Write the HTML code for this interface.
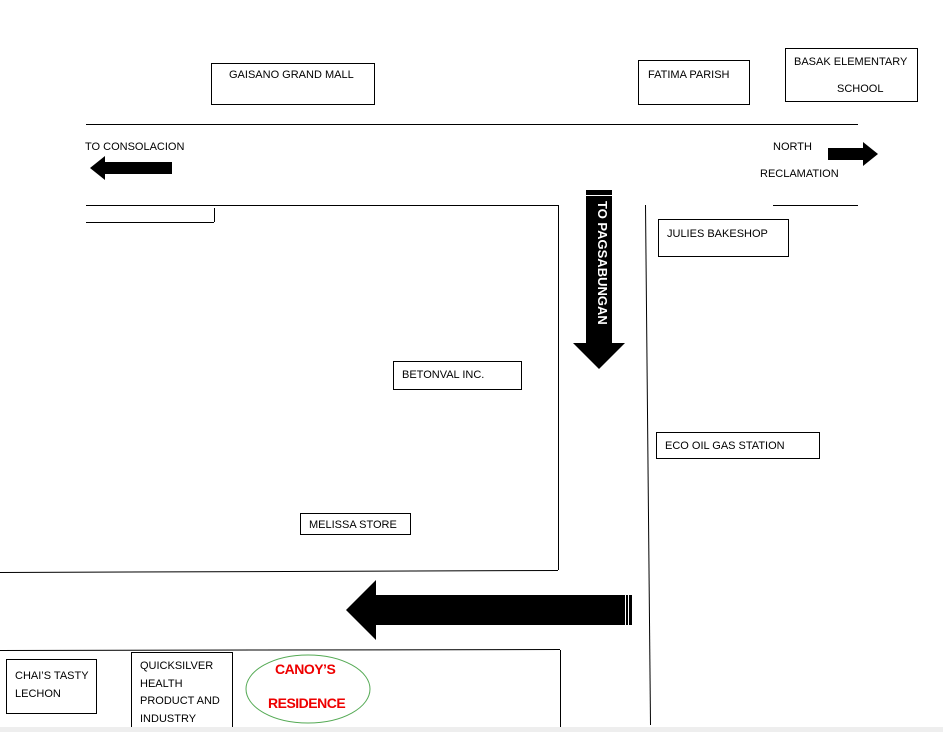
<!DOCTYPE html>
<html><head><style>
body{margin:0;width:943px;height:732px;background:#fff;position:relative;overflow:hidden;font-family:"Liberation Sans",sans-serif;font-size:11px;color:#000}
.b{position:absolute;border:1px solid #000;box-sizing:border-box}
.t{position:absolute;white-space:nowrap;margin-top:1px}
</style></head><body>
<svg width="943" height="732" style="position:absolute;left:0;top:0">
<g stroke="#000" stroke-width="1" fill="none">
<line x1="86" y1="124.5" x2="858" y2="124.5"/>
<line x1="86" y1="222.5" x2="214" y2="222.5"/>
<line x1="214.5" y1="208" x2="214.5" y2="222"/>
<line x1="86" y1="205.5" x2="558" y2="205.5"/>
<line x1="558.5" y1="205" x2="558.5" y2="570"/>
<line x1="0" y1="572.5" x2="558" y2="570.5"/>
<line x1="645.5" y1="205" x2="650.5" y2="725"/>
<line x1="773" y1="205.5" x2="858" y2="205.5"/>
<line x1="0" y1="650.5" x2="560" y2="649.5"/>
<line x1="560.5" y1="650" x2="560.5" y2="728"/>
</g>
<polygon points="90,168 105,156 105,162 172,162 172,174 105,174 105,180" fill="#000"/>
<polygon points="878,154 863,142 863,148 828,148 828,160 863,160 863,166" fill="#000"/>
<rect x="586" y="190" width="26" height="153" fill="#000"/>
<line x1="586" y1="195.5" x2="612" y2="195.5" stroke="#fff" stroke-width="1"/>
<polygon points="573,343 625,343 599,369" fill="#000"/>
<polygon points="346,610 376,580 376,595 632,595 632,625 376,625 376,640" fill="#000"/>
<line x1="625.5" y1="595" x2="625.5" y2="625" stroke="#fff"/>
<line x1="628.5" y1="595" x2="628.5" y2="625" stroke="#fff"/>
<ellipse cx="308" cy="689" rx="62" ry="34" fill="none" stroke="#5a5" stroke-width="1"/>
</svg>
<div class="t" style="left:590px;top:200px;transform-origin:0 0;transform:translate(19px,0) rotate(90deg);color:#fff;font-size:13px;line-height:14px;font-weight:bold">TO PAGSABUNGAN</div>
<div class="b" style="left:211px;top:63px;width:164px;height:42px"></div><div class="t" style="left:229px;top:68px">GAISANO GRAND MALL</div>
<div class="b" style="left:638px;top:60px;width:112px;height:45px"></div><div class="t" style="left:648px;top:68px">FATIMA PARISH</div>
<div class="b" style="left:785px;top:48px;width:133px;height:54px"></div><div class="t" style="left:794px;top:55px">BASAK ELEMENTARY</div><div class="t" style="left:837px;top:82px">SCHOOL</div>
<div class="t" style="left:85px;top:140px">TO CONSOLACION</div>
<div class="t" style="left:773px;top:140px">NORTH</div>
<div class="t" style="left:760px;top:167px">RECLAMATION</div>
<div class="b" style="left:658px;top:219px;width:131px;height:38px"></div><div class="t" style="left:667px;top:227px">JULIES BAKESHOP</div>
<div class="b" style="left:393px;top:361px;width:129px;height:29px"></div><div class="t" style="left:402px;top:368px">BETONVAL INC.</div>
<div class="b" style="left:656px;top:432px;width:164px;height:27px"></div><div class="t" style="left:665px;top:439px">ECO OIL GAS STATION</div>
<div class="b" style="left:300px;top:513px;width:111px;height:22px"></div><div class="t" style="left:309px;top:518px">MELISSA STORE</div>
<div class="b" style="left:6px;top:659px;width:91px;height:55px"></div><div class="t" style="left:15px;top:666px;line-height:18px">CHAI’S TASTY<br>LECHON</div>
<div class="b" style="left:131px;top:652px;width:102px;height:80px"></div><div class="t" style="left:140px;top:657px;line-height:17.5px">QUICKSILVER<br>HEALTH<br>PRODUCT AND<br>INDUSTRY</div>
<div class="t" style="left:275px;top:660px;color:#e00;font-weight:bold;font-size:14px;letter-spacing:-0.5px">CANOY’S</div>
<div class="t" style="left:268px;top:694px;color:#e00;font-weight:bold;font-size:14px;letter-spacing:-0.5px">RESIDENCE</div>
<div style="position:absolute;left:0;top:727px;width:943px;height:5px;background:#eee"></div>
</body></html>
